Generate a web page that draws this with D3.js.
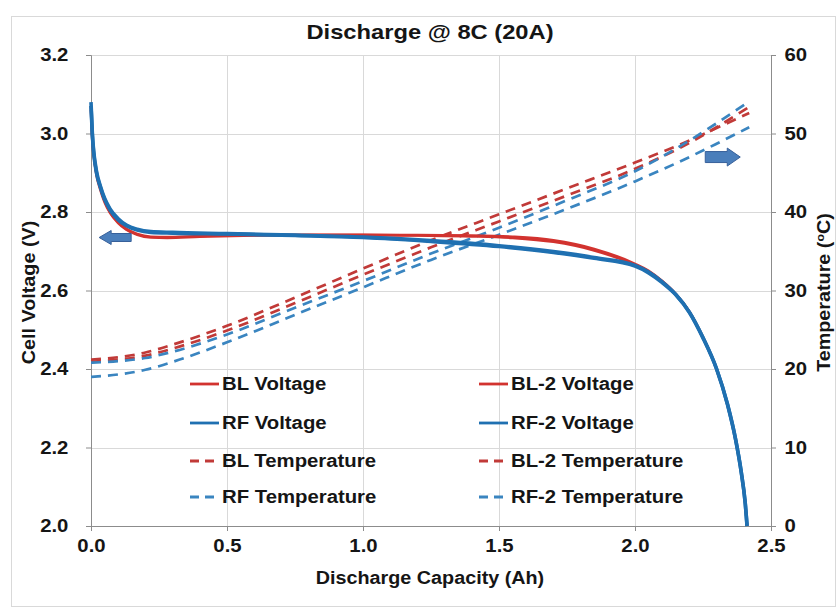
<!DOCTYPE html>
<html>
<head>
<meta charset="utf-8">
<script src="https://cdn.jsdelivr.net/npm/d3@7/dist/d3.min.js"></script>
<style>
  body { margin: 0; background: #fff; }
  svg { display: block; }
  text { font-family: "Liberation Sans", Arial, sans-serif; font-weight: bold; fill: #151515; }
</style>
</head>
<body>
<svg id="chart" width="838" height="612"></svg>
<script>
// ---- axis ticks ----
const capTicks = [0, 0.5, 1.0, 1.5, 2.0, 2.5];
const voltTicks = [2.0, 2.2, 2.4, 2.6, 2.8, 3.0, 3.2];
const tempTicks = [0, 10, 20, 30, 40, 50, 60];

// ---- cell voltage (V) vs discharge capacity (Ah) ----
const blVoltQ  = [0, 0.005, 0.01, 0.02, 0.035, 0.05, 0.07, 0.1, 0.13, 0.17, 0.22, 0.28, 0.4, 0.6, 0.8, 1.0, 1.2, 1.4, 1.55, 1.7, 1.85, 2.0, 2.05, 2.1, 2.15, 2.2, 2.25, 2.3, 2.34, 2.37, 2.39, 2.405, 2.412];
const blVoltV  = [3.07, 2.99, 2.95, 2.90, 2.86, 2.83, 2.80, 2.775, 2.757, 2.744, 2.737, 2.736, 2.739, 2.741, 2.742, 2.742, 2.741, 2.74, 2.737, 2.728, 2.706, 2.668, 2.65, 2.624, 2.591, 2.546, 2.481, 2.40, 2.31, 2.22, 2.14, 2.06, 2.0];
const bl2VoltQ = [0, 0.005, 0.01, 0.02, 0.035, 0.05, 0.07, 0.1, 0.13, 0.17, 0.22, 0.28, 0.4, 0.6, 0.8, 1.0, 1.2, 1.4, 1.55, 1.7, 1.85, 2.0, 2.05, 2.1, 2.15, 2.2, 2.25, 2.3, 2.34, 2.37, 2.39, 2.405, 2.412];
const bl2VoltV = [3.06, 2.98, 2.945, 2.895, 2.855, 2.825, 2.798, 2.772, 2.755, 2.742, 2.735, 2.734, 2.737, 2.74, 2.741, 2.741, 2.74, 2.738, 2.734, 2.724, 2.702, 2.665, 2.648, 2.623, 2.59, 2.545, 2.48, 2.40, 2.31, 2.22, 2.14, 2.06, 2.0];
const rfVoltQ  = [0, 0.005, 0.01, 0.02, 0.035, 0.05, 0.07, 0.1, 0.13, 0.17, 0.22, 0.3, 0.5, 0.75, 1.0, 1.25, 1.5, 1.7, 1.85, 2.0, 2.05, 2.1, 2.15, 2.2, 2.25, 2.3, 2.34, 2.37, 2.39, 2.405, 2.412];
const rfVoltV  = [3.08, 3.0, 2.955, 2.905, 2.865, 2.835, 2.808, 2.783, 2.767, 2.756, 2.75, 2.748, 2.745, 2.741, 2.736, 2.727, 2.714, 2.699, 2.684, 2.664, 2.647, 2.622, 2.59, 2.545, 2.48, 2.40, 2.31, 2.22, 2.14, 2.06, 2.0];
const rf2VoltQ = [0, 0.005, 0.01, 0.02, 0.035, 0.05, 0.07, 0.1, 0.13, 0.17, 0.22, 0.3, 0.5, 0.75, 1.0, 1.25, 1.5, 1.7, 1.85, 2.0, 2.05, 2.1, 2.15, 2.2, 2.25, 2.3, 2.34, 2.37, 2.39, 2.405, 2.412];
const rf2VoltV = [3.07, 2.995, 2.95, 2.9, 2.862, 2.832, 2.805, 2.78, 2.765, 2.754, 2.748, 2.746, 2.744, 2.74, 2.735, 2.725, 2.712, 2.697, 2.682, 2.662, 2.645, 2.62, 2.589, 2.544, 2.479, 2.40, 2.31, 2.22, 2.14, 2.06, 2.0];

// ---- cell temperature (°C) vs discharge capacity (Ah) ----
const tempQ    = [0, 0.1, 0.2, 0.3, 0.5, 0.75, 1.0, 1.25, 1.5, 1.75, 2.0, 2.2, 2.3, 2.42];
const blTemp   = [21.2, 21.5, 22.1, 23.1, 25.5, 29.1, 32.8, 36.4, 39.7, 43.0, 46.3, 49.1, 50.7, 52.6];
const bl2Temp  = [20.9, 21.2, 21.7, 22.6, 24.9, 28.4, 32.0, 35.5, 38.8, 42.1, 45.5, 48.8, 50.8, 53.4];
const rfTemp   = [20.8, 21.0, 21.4, 22.2, 24.4, 27.8, 31.2, 34.7, 38.0, 41.5, 45.2, 49.1, 51.3, 54.1];
const rf2Temp  = [19.0, 19.3, 19.9, 20.9, 23.4, 26.9, 30.4, 33.9, 37.1, 40.4, 43.9, 47.0, 48.7, 50.8];

// ---- legend labels ----
const legendCol1 = ["BL Voltage", "RF Voltage", "BL Temperature", "RF Temperature"];
const legendCol2 = ["BL-2 Voltage", "RF-2 Voltage", "BL-2 Temperature", "RF-2 Temperature"];

const RED = "#d2332f", RED_D = "#c13a38", BLUE = "#1f70b1", BLUE_D = "#3a85c0";
const STRETCH = 1.13;   // wide bold lettering

const svg = d3.select("#chart");
const M = { left: 91, right: 771, top: 55, bottom: 526 };

const x = d3.scaleLinear().domain([0, 2.5]).range([M.left, M.right]);
const yV = d3.scaleLinear().domain([2.0, 3.2]).range([M.bottom, M.top]);
const yT = d3.scaleLinear().domain([0, 60]).range([M.bottom, M.top]);

// text placed at (px, py), widened horizontally
function label(px, py, size, anchor, rot) {
  const g = svg.append("g").attr("transform",
    `translate(${px},${py})` + (rot ? ` rotate(${rot})` : "") + ` scale(${STRETCH},1)`);
  return g.append("text").attr("font-size", size).attr("text-anchor", anchor);
}

// outer frame
svg.append("rect").attr("x", 11.5).attr("y", 16.5).attr("width", 824).attr("height", 590)
  .attr("fill", "#fff").attr("stroke", "#d9d9d9");

// gridlines
svg.append("g").selectAll("line").data(voltTicks.slice(1)).join("line")
  .attr("x1", M.left).attr("x2", M.right)
  .attr("y1", d => Math.round(yV(d)) + 0.5).attr("y2", d => Math.round(yV(d)) + 0.5)
  .attr("stroke", "#d9d9d9");
svg.append("g").selectAll("line").data(capTicks.slice(1, -1)).join("line")
  .attr("y1", M.top).attr("y2", M.bottom)
  .attr("x1", d => Math.round(x(d)) + 0.5).attr("x2", d => Math.round(x(d)) + 0.5)
  .attr("stroke", "#d9d9d9");

// axes
function styleAxis(g) {
  g.select(".domain").attr("stroke", "#8c8c8c");
  g.selectAll(".tick line").attr("stroke", "#8c8c8c");
  g.selectAll(".tick text").attr("font-size", 18).attr("fill", "#151515")
    .attr("font-family", "Liberation Sans, Arial, sans-serif").attr("font-weight", "bold")
    .attr("transform", `scale(${STRETCH},1)`);
}
svg.append("g").attr("transform", `translate(0,${M.bottom})`)
  .call(d3.axisBottom(x).tickValues(capTicks).tickFormat(d3.format(".1f")).tickSizeOuter(0).tickSize(5).tickPadding(8))
  .call(styleAxis);
svg.append("g").attr("transform", `translate(${M.left},0)`)
  .call(d3.axisLeft(yV).tickValues(voltTicks).tickFormat(d3.format(".1f")).tickSizeOuter(0).tickSize(5).tickPadding(15))
  .call(styleAxis);
svg.append("g").attr("transform", `translate(${M.right},0)`)
  .call(d3.axisRight(yT).tickValues(tempTicks).tickSizeOuter(0).tickSize(5).tickPadding(7))
  .call(styleAxis);

// axis titles
label((M.left + M.right) / 2 - 1, 584, 17.5, "middle").text("Discharge Capacity (Ah)");
label(35, (M.top + M.bottom) / 2 + 2, 17.5, "middle", -90).text("Cell Voltage (V)");
const rt = label(830, (M.top + M.bottom) / 2 + 2, 17.5, "middle", -90);
rt.append("tspan").text("Temperature (");
rt.append("tspan").attr("font-size", 11).attr("dy", -6).text("o");
rt.append("tspan").attr("dy", 6).text("C)");

// title
label(430, 39, 21, "middle").text("Discharge @ 8C (20A)");

// series lines
const lineV = d3.line().x(d => x(d[0])).y(d => yV(d[1])).curve(d3.curveMonotoneX);
const lineT = d3.line().x(d => x(d[0])).y(d => yT(d[1])).curve(d3.curveMonotoneX);
const zip = (a, b) => a.map((v, i) => [v, b[i]]);

const temps = [
  { v: bl2Temp, c: RED_D }, { v: blTemp, c: RED_D },
  { v: rf2Temp, c: BLUE_D }, { v: rfTemp, c: BLUE_D }
];
svg.append("g").selectAll("path").data(temps).join("path")
  .attr("d", d => lineT(zip(tempQ, d.v)))
  .attr("fill", "none").attr("stroke", d => d.c).attr("stroke-width", 2.7)
  .attr("stroke-dasharray", "10,7");

const volts = [
  { q: bl2VoltQ, v: bl2VoltV, c: RED, w: 2.6 },
  { q: blVoltQ, v: blVoltV, c: RED, w: 2.6 },
  { q: rf2VoltQ, v: rf2VoltV, c: BLUE, w: 3.6 },
  { q: rfVoltQ, v: rfVoltV, c: BLUE, w: 3.6 }
];
svg.append("g").selectAll("path").data(volts).join("path")
  .attr("d", d => lineV(zip(d.q, d.v)))
  .attr("fill", "none").attr("stroke", d => d.c).attr("stroke-width", d => d.w)
  .attr("stroke-linejoin", "round");

// direction arrows: voltage -> left axis, temperature -> right axis
function blockArrow(tipX, cy, len, headLen, headH, shaftH, dir) {
  const tail = tipX - dir * len, neck = tipX - dir * headLen;
  return [[tipX, cy], [neck, cy - headH], [neck, cy - shaftH], [tail, cy - shaftH],
          [tail, cy + shaftH], [neck, cy + shaftH], [neck, cy + headH]];
}
const arrowLeft = { q: 0.03, v: 2.735 };
const arrowRight = { q: 2.387, t: 47.0 };
svg.append("polygon")
  .attr("points", blockArrow(x(arrowLeft.q), yV(arrowLeft.v), 32, 12, 7, 4, -1).join(" "))
  .attr("fill", "#4a7ebb").attr("stroke", "#37609a").attr("stroke-width", 1);
svg.append("polygon")
  .attr("points", blockArrow(x(arrowRight.q), yT(arrowRight.t), 35, 13, 9, 5.5, 1).join(" "))
  .attr("fill", "#4a7ebb").attr("stroke", "#37609a").attr("stroke-width", 1);

// legend
const rowsY = [384, 423, 461, 497];
const colsX = [190, 479];
const legendStyle = [
  { c: RED, dash: null }, { c: BLUE, dash: null },
  { c: RED_D, dash: "9,6" }, { c: BLUE_D, dash: "9,6" }
];
[legendCol1, legendCol2].forEach((labels, ci) => {
  labels.forEach((lab, ri) => {
    const g = svg.append("g").attr("transform", `translate(${colsX[ci]},${rowsY[ri]})`);
    g.append("line").attr("x1", 0).attr("x2", 29).attr("y1", 0).attr("y2", 0)
      .attr("stroke", legendStyle[ri].c).attr("stroke-width", 2.8)
      .attr("stroke-dasharray", legendStyle[ri].dash);
    g.append("g").attr("transform", `translate(32,6) scale(${STRETCH},1)`)
      .append("text").attr("font-size", 18).text(lab);
  });
});
</script>
</body>
</html>
